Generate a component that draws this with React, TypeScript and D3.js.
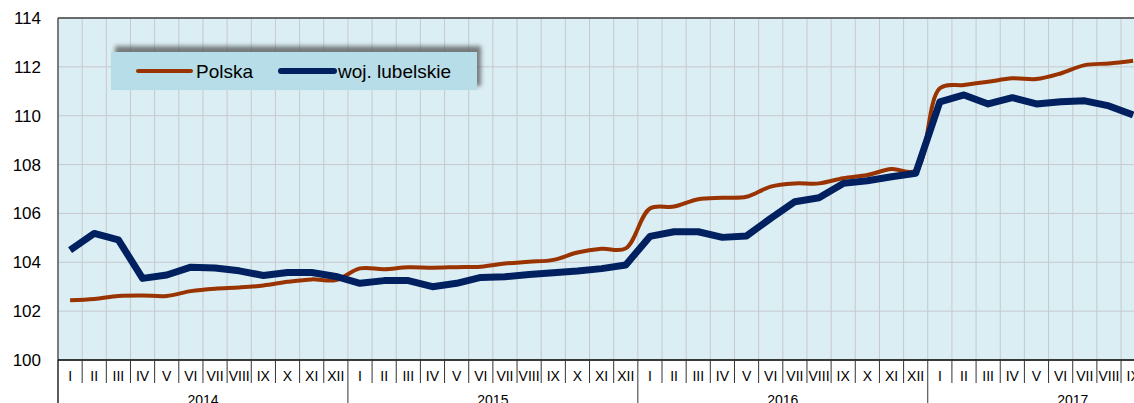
import * as d3 from "d3";
import React from "react";

// month labels and years
const months = ["I", "II", "III", "IV", "V", "VI", "VII", "VIII", "IX", "X", "XI", "XII"];
const years = ["2014", "2015", "2016", "2017"];
const yTicks = [100, 102, 104, 106, 108, 110, 112, 114];

const polska = [
  102.45, 102.5, 102.62, 102.64, 102.62, 102.82, 102.92, 102.97, 103.05, 103.2, 103.3, 103.27,
  103.75, 103.72, 103.8, 103.78, 103.8, 103.82, 103.95, 104.02, 104.1, 104.4, 104.55, 104.57,
  106.2, 106.28, 106.58, 106.64, 106.68, 107.1, 107.23, 107.23, 107.44, 107.57, 107.82, 107.75,
  111.12, 111.26, 111.39, 111.53, 111.5, 111.73, 112.07, 112.14, 112.25,
];
const lubelskie = [
  104.5, 105.18, 104.92, 103.34, 103.48, 103.8, 103.77, 103.65, 103.46, 103.58, 103.58, 103.42,
  103.14, 103.25, 103.25, 103.0, 103.14, 103.38, 103.41, 103.5, 103.57, 103.64, 103.74, 103.89,
  105.06, 105.25, 105.25, 105.02, 105.08, 105.8, 106.48, 106.64, 107.23, 107.34, 107.5, 107.64,
  110.57, 110.85, 110.48, 110.74, 110.48, 110.57, 110.61, 110.4, 110.03,
];

const W = 1134;
const H = 403;
const margin = { left: 58, top: 18, bottom: 360 };
const band = 24.16;

export default function App() {
  const n = polska.length;
  const idx = d3.range(n);
  const x = d3.scaleBand<number>().domain(idx).range([margin.left, margin.left + band * n]).paddingInner(0).paddingOuter(0);
  const y = d3.scaleLinear().domain([100, 114]).range([margin.bottom, margin.top]);
  const cx = (i: number) => (x(i) as number) + x.bandwidth() / 2;

  const redLine = d3.line<number>().x((_, i) => cx(i)).y((d) => y(d)).curve(d3.curveCatmullRom.alpha(0.5));
  const blueLine = d3.line<number>().x((_, i) => cx(i)).y((d) => y(d)).curve(d3.curveLinear);

  const right = margin.left + band * n;
  const font = "'Liberation Sans', Arial, sans-serif";

  return (
    <svg width={W} height={H} style={{ position: "absolute", left: 0, top: 0 }} fontFamily={font}>
      <defs>
        <filter id="blur" x="-10%" y="-50%" width="120%" height="200%">
          <feGaussianBlur stdDeviation="2" />
        </filter>
        <clipPath id="plot">
          <rect x={margin.left} y={margin.top} width={right - margin.left} height={margin.bottom - margin.top} />
        </clipPath>
      </defs>
      <rect x={margin.left} y={margin.top} width={right - margin.left} height={margin.bottom - margin.top} fill="#dbeef4" />
      {/* vertical grid */}
      {idx.map((i) => (
        <line key={"v" + i} x1={x(i)} x2={x(i)} y1={margin.top} y2={margin.bottom} stroke="#c6c9cc" strokeWidth={1} />
      ))}
      {/* horizontal grid */}
      {yTicks.map((t) => (
        <line key={"h" + t} x1={margin.left} x2={right} y1={y(t)} y2={y(t)} stroke="#c6c9cc" strokeWidth={1} />
      ))}
      <line x1={margin.left} x2={right} y1={margin.top} y2={margin.top} stroke="#444" strokeWidth={1.3} />

      {/* legend */}
      <rect x={115} y={46} width={366} height={40} fill="#555" opacity={0.75} filter="url(#blur)" />
      <rect x={111} y={52} width={366} height={38} fill="#b7dde8" />
      <line x1={138} x2={191} y1={71} y2={71} stroke="#993300" strokeWidth={4} strokeLinecap="round" />
      <text x={196} y={78} fontSize={19} fill="#000">Polska</text>
      <line x1={281} x2={334} y1={71} y2={71} stroke="#002060" strokeWidth={6} strokeLinecap="round" />
      <text x={338} y={78} fontSize={19} fill="#000">woj. lubelskie</text>

      {/* series */}
      <g clipPath="url(#plot)">
        <path d={redLine(polska) ?? ""} fill="none" stroke="#993300" strokeWidth={4} strokeLinejoin="round" />
        <path d={blueLine(lubelskie) ?? ""} fill="none" stroke="#002060" strokeWidth={7} strokeLinejoin="round" />
      </g>

      {/* y axis */}
      <line x1={margin.left} x2={margin.left} y1={margin.top} y2={H} stroke="#444" strokeWidth={1.3} />
      {yTicks.map((t) => (
        <text key={"yt" + t} x={41} y={y(t) + 6} fontSize={17} textAnchor="end" fill="#000">{t}</text>
      ))}

      {/* x axis */}
      <line x1={margin.left} x2={right} y1={margin.bottom} y2={margin.bottom} stroke="#000" strokeWidth={1.3} />
      {idx.map((i) => (
        <g key={"xt" + i}>
          <line x1={x(i)} x2={x(i)} y1={margin.bottom} y2={i % 12 === 0 ? H : 383} stroke="#333" strokeWidth={1} />
          <text x={cx(i)} y={381} fontSize={14} textAnchor="middle" fill="#000">{months[i % 12]}</text>
        </g>
      ))}
      {years.map((yr, j) => {
        const start = margin.left + band * 12 * j;
        return (
          <text key={yr} x={start + band * 6} y={405} fontSize={14} textAnchor="middle" fill="#000">{yr}</text>
        );
      })}
    </svg>
  );
}
